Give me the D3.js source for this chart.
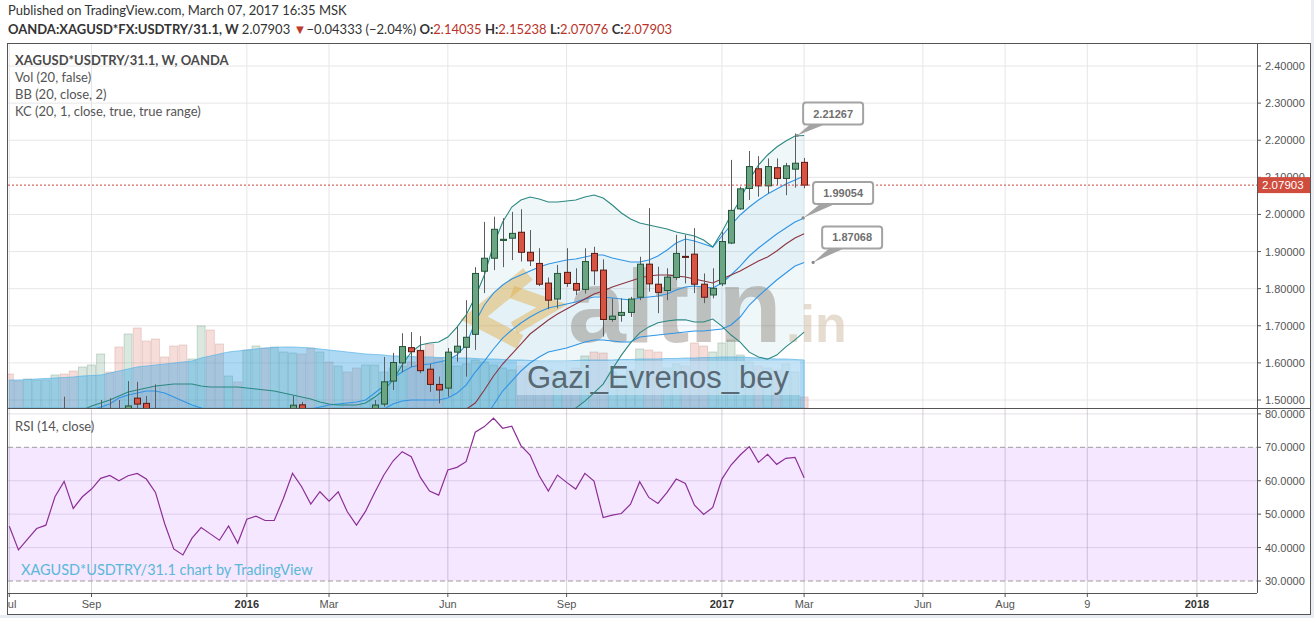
<!DOCTYPE html>
<html><head><meta charset="utf-8">
<script src="https://cdn.jsdelivr.net/npm/d3@7"></script>
<style>html,body{margin:0;padding:0;background:#fff;} svg{display:block}</style>
</head><body><svg id="c" width="1314" height="618"></svg>
<script>
// ---------------- DATA (weekly bars, Mondays, Jul 6 2015 .. Mar 6 2017) ----------------
const firstWeek = "2015-07-06", lastWeek = "2017-03-06";
const open = [1.335,1.310,1.290,1.325,1.340,1.350,1.440,1.430,1.395,1.418,
1.432,1.470,1.470,1.452,1.505,1.491,1.476,1.455,1.390,1.332,
1.320,1.330,1.365,1.350,1.343,1.360,1.340,1.375,1.382,1.375,
1.376,1.415,1.487,1.455,1.420,1.445,1.425,1.445,1.410,1.390,
1.420,1.489,1.551,1.600,1.641,1.633,1.583,1.542,1.532,1.629,
1.642,1.677,1.847,1.882,1.930,1.936,1.952,1.898,1.868,1.815,
1.772,1.844,1.814,1.798,1.895,1.850,1.717,1.728,1.736,1.777,
1.866,1.812,1.795,1.830,1.887,1.893,1.812,1.783,1.813,1.923,
2.015,2.070,2.123,2.077,2.126,2.097,2.122,2.14035];
const high = [1.350,1.320,1.335,1.350,1.360,1.420,1.509,1.445,1.430,1.445,
1.500,1.505,1.500,1.551,1.549,1.511,1.542,1.465,1.400,1.345,
1.350,1.375,1.385,1.365,1.370,1.365,1.385,1.395,1.395,1.390,
1.425,1.511,1.495,1.465,1.455,1.460,1.460,1.450,1.420,1.425,
1.500,1.616,1.627,1.680,1.683,1.672,1.597,1.563,1.640,1.697,
1.769,1.858,1.980,1.994,1.990,2.007,2.014,1.958,1.909,1.830,
1.864,1.909,1.855,1.909,1.913,1.879,1.774,1.774,1.778,1.886,
2.017,1.859,1.855,1.945,1.945,1.963,1.841,1.855,1.954,2.147,
2.075,2.171,2.157,2.151,2.151,2.139,2.218,2.15238];
const low = [1.300,1.270,1.280,1.315,1.330,1.345,1.405,1.385,1.385,1.405,
1.425,1.450,1.440,1.445,1.476,1.465,1.440,1.380,1.325,1.310,
1.305,1.310,1.340,1.330,1.335,1.330,1.330,1.360,1.360,1.360,
1.370,1.410,1.445,1.410,1.410,1.415,1.415,1.400,1.380,1.385,
1.410,1.482,1.527,1.575,1.589,1.572,1.522,1.491,1.509,1.603,
1.563,1.635,1.788,1.850,1.858,1.877,1.873,1.861,1.807,1.745,
1.747,1.805,1.783,1.787,1.810,1.671,1.711,1.711,1.724,1.769,
1.792,1.734,1.769,1.823,1.814,1.788,1.761,1.774,1.807,1.920,
2.012,2.039,2.048,2.057,2.079,2.052,2.072,2.07076];
const close = [1.310,1.290,1.325,1.340,1.350,1.410,1.430,1.395,1.418,1.432,
1.458,1.462,1.455,1.484,1.489,1.476,1.455,1.390,1.332,1.320,
1.340,1.356,1.350,1.343,1.360,1.340,1.375,1.382,1.375,1.376,
1.415,1.486,1.455,1.420,1.445,1.425,1.445,1.410,1.390,1.415,
1.4865,1.549,1.601,1.644,1.630,1.579,1.542,1.527,1.629,1.645,
1.669,1.841,1.882,1.960,1.933,1.949,1.898,1.875,1.812,1.769,
1.841,1.814,1.796,1.873,1.848,1.717,1.726,1.736,1.772,1.866,
1.813,1.790,1.831,1.895,1.885,1.812,1.777,1.801,1.927,2.011,
2.069,2.129,2.077,2.129,2.097,2.131,2.138,2.07903];
const volume = [34,27,29,28,28,33,34,37,41,43,
54,36,61,74,80,67,69,51,62,63,
49,82,78,64,32,26,58,62,60,61,
56,55,54,60,56,46,42,36,40,43,
43,36,40,42,46,58,64,50,44,42,
44,48,46,43,40,38,42,36,40,38,
34,36,40,52,56,55,36,32,38,59,
58,56,40,44,42,65,62,56,65,68,
53,46,42,40,38,44,36,11];
const volumeMA = [28,28,28.5,29,29.5,30,30.5,31,32,32.5,
33,35,37,39,41,42,43,44,45,46,
47,50,52,54,56,57,58,59,60,60.5,
61,61,60.5,60,59,58,57,56,55,54,
53.5,53,52,52,51.5,51,51,50.5,50.5,50,
50,49.5,49,49,48.5,48,48,47.5,47,47,
47,47,47.5,48,48,48,48,48.5,48.5,49,
49,49,49.5,49.5,50,50,50.5,50.5,51,51,
51,50.5,50,49.5,49,49,48.5,48];
const bbUpper = [null,null,null,null,null,null,null,null,1.4729,1.4837,
1.4918,1.4999,1.5106,1.5214,1.5268,1.5322,1.5376,1.5403,1.5430,1.5430,
1.5430,1.5376,1.5349,1.5349,1.5349,1.5349,1.5322,1.5295,1.5268,1.5241,
1.5187,1.5133,1.5079,1.5026,1.4945,1.4891,1.4864,1.4864,1.4864,1.4918,
1.5079,1.5268,1.5538,1.5942,1.6293,1.6481,1.6535,1.6562,1.6697,1.6966,
1.7289,1.7774,1.8368,1.9176,1.9796,2.0200,2.0389,2.0470,2.0416,2.0335,
2.0335,2.0362,2.0389,2.0470,2.0524,2.0443,2.0254,2.0039,1.9877,1.9769,
1.9715,1.9661,1.9607,1.9527,1.9473,1.9419,1.9311,1.9122,1.9527,1.9985,
2.0389,2.0928,2.1332,2.1602,2.1817,2.1979,2.2114,2.21267];
const bbBasis = [null,null,null,null,null,null,null,null,1.360,1.365,
1.370,1.375,1.380,1.385,1.390,1.395,1.400,1.405,1.405,1.405,
1.405,1.405,1.405,1.400,1.400,1.395,1.390,1.385,1.380,1.375,
1.370,1.372,1.372,1.372,1.375,1.378,1.382,1.385,1.388,1.392,
1.397,1.405,1.415,1.425,1.433,1.440,1.445,1.448,1.455,1.463,
1.475,1.4918,1.5268,1.5646,1.5969,1.6239,1.6508,1.6778,1.6966,1.7155,
1.7316,1.7451,1.7586,1.7720,1.7855,1.7936,1.8044,1.8125,1.8206,1.8287,
1.8341,1.8368,1.8368,1.8341,1.8314,1.8260,1.8206,1.8152,1.8260,1.8368,
1.8475,1.8610,1.8745,1.8853,1.9014,1.9203,1.9365,1.9480];
const bbLower = [null,null,null,null,null,null,null,null,1.247,1.246,
1.248,1.250,1.249,1.249,1.253,1.258,1.262,1.270,1.267,1.267,
1.267,1.272,1.275,1.265,1.265,1.255,1.248,1.240,1.233,1.226,
1.221,1.231,1.236,1.241,1.256,1.267,1.278,1.284,1.290,1.292,
1.286,1.283,1.276,1.256,1.237,1.232,1.237,1.240,1.240,1.229,
1.221,1.206,1.217,1.212,1.214,1.228,1.263,1.309,1.352,1.398,
1.430,1.454,1.478,1.497,1.519,1.543,1.583,1.621,1.654,1.681,
1.697,1.708,1.713,1.716,1.716,1.710,1.710,1.718,1.699,1.675,
1.656,1.629,1.616,1.610,1.621,1.643,1.662,1.683];
const kcUpper = [null,null,null,null,null,null,null,null,1.465,1.474,
1.481,1.4891,1.5053,1.5133,1.5187,1.5241,1.5241,1.5187,1.5079,1.4972,
1.4864,1.4783,1.4675,1.4594,1.4540,1.4514,1.4514,1.4514,1.4540,1.4567,
1.4621,1.4702,1.4729,1.4756,1.4810,1.4864,1.4891,1.4918,1.4945,1.4999,
1.5187,1.5376,1.5592,1.5753,1.5888,1.5942,1.5969,1.6023,1.6077,1.6212,
1.6481,1.7101,1.7559,1.7882,1.8098,1.8260,1.8368,1.8475,1.8583,1.8664,
1.8718,1.8772,1.8799,1.8853,1.8907,1.8907,1.8826,1.8772,1.8718,1.8718,
1.8772,1.8880,1.9041,1.9230,1.9338,1.9284,1.9203,1.9122,1.9419,1.9715,
1.9985,2.0200,2.0389,2.0550,2.0685,2.0820,2.0928,2.1036];
const kcBasis = [null,null,null,null,null,null,null,null,1.400,1.410,
1.4191,1.4352,1.4487,1.4568,1.4622,1.4675,1.4675,1.4622,1.4514,1.4406,
1.4299,1.4218,1.4137,1.4083,1.4029,1.4002,1.4002,1.4002,1.4029,1.4056,
1.4110,1.4191,1.4218,1.4245,1.4299,1.4352,1.4379,1.4406,1.4433,1.4487,
1.4622,1.4756,1.4891,1.4972,1.4999,1.4999,1.4999,1.4999,1.5053,1.5187,
1.5403,1.5753,1.6050,1.6374,1.6670,1.6885,1.7074,1.7236,1.7370,1.7478,
1.7532,1.7586,1.7640,1.7720,1.7774,1.7774,1.7747,1.7720,1.7693,1.7747,
1.7774,1.7801,1.7855,1.7963,1.8044,1.8071,1.8044,1.8017,1.8152,1.8368,
1.8610,1.8880,1.9095,1.9284,1.9473,1.9634,1.9796,1.99054];
const kcLower = [null,null,null,null,null,null,null,null,1.335,1.346,
1.368,1.381,1.392,1.400,1.406,1.411,1.411,1.406,1.395,1.384,
1.373,1.365,1.360,1.357,1.352,1.349,1.349,1.349,1.352,1.355,
1.360,1.368,1.371,1.373,1.379,1.384,1.387,1.389,1.392,1.398,
1.406,1.414,1.419,1.419,1.411,1.406,1.403,1.398,1.403,1.416,
1.4325,1.4352,1.4487,1.4864,1.5241,1.5511,1.5781,1.5996,1.6158,1.6293,
1.6347,1.6400,1.6481,1.6562,1.6616,1.6616,1.6589,1.6562,1.6562,1.6697,
1.6724,1.6751,1.6778,1.6805,1.6831,1.6858,1.6858,1.6885,1.6912,1.7020,
1.7236,1.7559,1.7801,1.8017,1.8233,1.8421,1.8610,1.87068];
const rsi = [46.4,39.3,42.5,45.7,46.7,55.2,59.8,51.7,55.2,57.5,
60.7,61.6,60.0,61.5,62.2,60.5,56.5,47.2,39.6,37.8,
42.8,46.0,44.1,42.2,46.5,41.3,48.5,49.4,48.1,48.1,
54.7,62.2,58.2,53.0,56.7,53.9,56.7,50.7,46.7,50.9,
56.5,61.7,65.9,68.7,67.2,61.0,56.9,55.7,63.2,64.0,
65.7,74.5,76.2,78.7,75.7,76.3,70.5,67.7,61.5,56.9,
61.7,59.5,57.5,62.2,59.9,49.0,49.7,50.2,53.0,59.7,
55.0,53.2,56.5,60.5,59.2,52.7,49.9,52.0,60.5,64.7,
67.7,70.2,65.5,67.9,64.9,66.7,67.0,60.9];
const priceTicks = [2.4,2.3,2.2,2.1,2.0,1.9,1.8,1.7,1.6,1.5];
const rsiTicks = [80,70,60,50,40,30];
const timeTickDates = ["2015-07-06","2015-09-07","2016-01-04","2016-03-07","2016-06-06","2016-09-05","2017-01-02","2017-03-06","2017-06-05","2017-08-07","2017-10-09","2018-01-01"];
const timeTickLabels = ["Jul","Sep","2016","Mar","Jun","Sep","2017","Mar","Jun","Aug","9","2018"];
const yearLabels = ["2016","2017","2018"];
const lastPrice = 2.07903;
const calloutValues = [2.21267, 1.99054, 1.87068];

// ---------------- LAYOUT ----------------
const L = 8, R = 1257, AXR = 1310, PT = 44, PB = 408, RB = 593, BOT = 614;
const AX_FONT = "'Liberation Sans', Arial, sans-serif";
const UI_FONT = "Lato, 'Open Sans', sans-serif";
const parse = d3.utcParse("%Y-%m-%d");
const dates = d3.utcMonday.range(parse(firstWeek), d3.utcDay.offset(parse(lastWeek), 1));
const N = dates.length;

const x = d3.scaleUtc().domain([Date.UTC(2015,6,5), Date.UTC(2018,1,16)]).range([L, R]);
const y = d3.scaleLinear().domain([1.5, 2.4]).range([400, 66]);
const yVol = d3.scaleLinear().domain([0, 100]).range([PB, PB - 100]);
const yRsi = d3.scaleLinear().domain([30, 70]).range([581, 447.3]);

const svg = d3.select("#c");
svg.append("rect").attr("width",1314).attr("height",618).attr("fill","#ffffff");
svg.append("rect").attr("x",AXR+1).attr("y",0).attr("width",10).attr("height",618).attr("fill","#e9edf1");
svg.append("rect").attr("x",0).attr("y",BOT+1).attr("width",1314).attr("height",10).attr("fill","#e9edf1");

const defs = svg.append("defs");
defs.append("clipPath").attr("id","cp").append("rect").attr("x",L).attr("y",PT).attr("width",R-L).attr("height",PB-PT);
defs.append("clipPath").attr("id","cr").append("rect").attr("x",L).attr("y",PB).attr("width",R-L).attr("height",RB-PB);
defs.append("clipPath").attr("id","ct").append("rect").attr("x",L).attr("y",RB).attr("width",R-L).attr("height",BOT-RB);

// ---------------- HEADER ----------------
svg.append("text").attr("x",8).attr("y",14.5).attr("font-family",UI_FONT).attr("font-size",13).attr("fill","#333")
  .text("Published on TradingView.com, March 07, 2017 16:35 MSK");
const h2 = svg.append("text").attr("x",8).attr("y",34).attr("font-family",UI_FONT).attr("font-size",13).attr("fill","#333");
h2.append("tspan").attr("font-weight","bold").text("OANDA:XAGUSD*FX:USDTRY/31.1, W ");
h2.append("tspan").text("2.07903 ");
h2.append("tspan").attr("fill","#c0392b").text("▼");
h2.append("tspan").text("−0.04333 (−2.04%) ");
[["O:","2.14035"],["H:","2.15238"],["L:","2.07076"],["C:","2.07903"]].forEach(([k,v])=>{
  h2.append("tspan").attr("font-weight","bold").attr("fill","#333").text(k);
  h2.append("tspan").attr("fill","#b8342a").text(v+" ");
});

// ---------------- GRID ----------------
const tickX = timeTickDates.map(d => x(parse(d)));
const grid = svg.append("g");
tickX.forEach(tx => { if (tx > L+1) grid.append("line").attr("x1",tx).attr("x2",tx).attr("y1",PT).attr("y2",RB).attr("stroke","#e6e6e6"); });
priceTicks.forEach(p => grid.append("line").attr("x1",L).attr("x2",R).attr("y1",y(p)).attr("y2",y(p)).attr("stroke","#e6e6e6"));

// ---------------- PRICE PANE ----------------
const pp = svg.append("g").attr("clip-path","url(#cp)");
const idx = d3.range(N);
const cx = i => x(dates[i]);
const bandArea = (up, lo) => d3.area().defined(i => up[i] != null).x(cx).y0(i => y(lo[i])).y1(i => y(up[i]));
pp.append("path").attr("d", bandArea(bbUpper,bbLower)(idx)).attr("fill","rgba(25,135,170,0.07)");
pp.append("path").attr("d", bandArea(kcUpper,kcLower)(idx)).attr("fill","rgba(33,150,243,0.05)");

// volume bars
pp.selectAll(".vb").data(idx).enter().append("rect")
  .attr("x", i => cx(i) - 4).attr("width", 8)
  .attr("y", i => yVol(volume[i])).attr("height", i => PB - yVol(volume[i]))
  .attr("fill", i => close[i] >= open[i] ? "rgba(107,165,131,0.25)" : "rgba(215,84,66,0.2)")
  .attr("stroke", i => close[i] >= open[i] ? "rgba(90,140,110,0.35)" : "rgba(180,110,100,0.3)").attr("stroke-width",0.8);
// volume MA area
pp.append("path").attr("d", d3.area().x(cx).y0(PB).y1(i => yVol(volumeMA[i])).curve(d3.curveMonotoneX)(idx))
  .attr("fill","rgba(60,165,228,0.42)").attr("stroke","rgba(90,180,230,0.7)").attr("stroke-width",1);

// watermark logo (altın.in)
const logo = pp.append("g");
logo.append("polyline").attr("points","528,274 474,318 520,342").attr("fill","none").attr("stroke","rgba(226,178,84,0.5)").attr("stroke-width",15).attr("stroke-linejoin","miter");
logo.append("polyline").attr("points","512,292 552,306 514,328").attr("fill","none").attr("stroke","rgba(226,178,84,0.5)").attr("stroke-width",13).attr("stroke-linejoin","miter");
logo.append("text").attr("x",568).attr("y",342).attr("font-family",AX_FONT).attr("font-weight","bold").attr("font-size",104)
  .attr("fill","rgba(120,108,95,0.38)").text("altın");
logo.append("text").attr("x",786).attr("y",342).attr("font-family",AX_FONT).attr("font-weight","bold").attr("font-size",52)
  .attr("fill","rgba(200,180,150,0.45)").text(".in");
// Gazi box
pp.append("rect").attr("x",517).attr("y",361).attr("width",283).attr("height",34).attr("fill","rgba(214,234,247,0.6)");
pp.append("text").attr("x",527).attr("y",388).attr("font-family",AX_FONT).attr("font-size",31).attr("fill","#4e5d68").attr("opacity",0.9).text("Gazi_Evrenos_bey");

// band lines
const ln = arr => d3.line().defined(i => arr[i] != null).x(cx).y(i => y(arr[i]))(idx);
[[kcUpper,"#2f95e6"],[kcBasis,"#2f95e6"],[kcLower,"#2f95e6"],[bbBasis,"#8d3440"],[bbUpper,"#2b8882"],[bbLower,"#2b8882"]]
  .forEach(([a,c]) => pp.append("path").attr("d", ln(a)).attr("fill","none").attr("stroke",c).attr("stroke-width",1.1));

// candles
const cg = pp.append("g");
idx.forEach(i => {
  const up = close[i] >= open[i];
  const xc = Math.round(cx(i)) + 0.5;
  cg.append("line").attr("x1",xc).attr("x2",xc).attr("y1",y(high[i])).attr("y2",y(low[i])).attr("stroke","#5d5d60");
  const yt = y(Math.max(open[i],close[i])), yb = y(Math.min(open[i],close[i]));
  cg.append("rect").attr("x",xc-3).attr("width",6).attr("y",yt).attr("height",Math.max(1,yb-yt))
    .attr("fill", up ? "#6ba583" : "#d75442").attr("stroke", up ? "#225437" : "#5b1a13").attr("stroke-width",1);
});

// last price line
pp.append("line").attr("x1",L).attr("x2",R).attr("y1",y(lastPrice)).attr("y2",y(lastPrice))
  .attr("stroke","#d0493c").attr("stroke-dasharray","2,2");

// callouts
const lastX = cx(N-1);
const calloutGeo = [{tip:-7, box:-1, top:-33},{tip:-1, box:9, top:-36},{tip:9, box:18, top:-36}];
const co = svg.append("g");
calloutValues.forEach((v,j) => {
  const g = calloutGeo[j];
  const ty = y(v), tx = lastX + g.tip, bx = lastX + g.box, by = ty + g.top;
  co.append("path").attr("d",`M${bx+8},${by+21} L${bx+24},${by+21} L${tx},${ty} Z`).attr("fill","#a3a3a3");
  co.append("rect").attr("x",bx).attr("y",by).attr("width",60).attr("height",22).attr("rx",3)
    .attr("fill","#fff").attr("stroke","#a3a3a3").attr("stroke-width",2);
  co.append("text").attr("x",bx+30).attr("y",by+15).attr("text-anchor","middle").attr("font-family",AX_FONT)
    .attr("font-weight","bold").attr("font-size",11).attr("fill","#6f6f6f").text(v.toFixed(5));
  co.append("circle").attr("cx",tx).attr("cy",ty).attr("r",1.6).attr("fill","#8a8a8a");
});

// legend
const lg = svg.append("g").attr("font-family",UI_FONT).attr("font-size",13).attr("fill","#555");
lg.append("text").attr("x",15).attr("y",65).attr("font-weight","bold").attr("fill","#4a4a4a").text("XAGUSD*USDTRY/31.1, W, OANDA");
lg.append("text").attr("x",15).attr("y",82).text("Vol (20, false)");
lg.append("text").attr("x",15).attr("y",99).text("BB (20, close, 2)");
lg.append("text").attr("x",15).attr("y",116).text("KC (20, 1, close, true, true range)");

// ---------------- RSI PANE ----------------
const rp = svg.append("g").attr("clip-path","url(#cr)");
rp.append("rect").attr("x",L).attr("y",yRsi(70)).attr("width",R-L).attr("height",yRsi(30)-yRsi(70)).attr("fill","rgba(153,21,255,0.1)");
tickX.forEach(tx => rp.append("line").attr("x1",tx).attr("x2",tx).attr("y1",PB).attr("y2",RB).attr("stroke","rgba(150,130,170,0.18)"));
[80,60,50,40].forEach(v => rp.append("line").attr("x1",L).attr("x2",R).attr("y1",yRsi(v)).attr("y2",yRsi(v)).attr("stroke","rgba(150,130,170,0.25)"));
[70,30].forEach(v => rp.append("line").attr("x1",L).attr("x2",R).attr("y1",yRsi(v)).attr("y2",yRsi(v)).attr("stroke","#9d9d9d").attr("stroke-dasharray","5,3"));
rp.append("path").attr("d", d3.line().x(cx).y(i => yRsi(rsi[i]))(idx)).attr("fill","none").attr("stroke","#8c2f96").attr("stroke-width",1.2);
svg.append("text").attr("x",15).attr("y",431).attr("font-family",UI_FONT).attr("font-size",13).attr("fill","#555").text("RSI (14, close)");
svg.append("text").attr("x",21).attr("y",575).attr("font-family",UI_FONT).attr("font-size",14.5).attr("fill","#5ab8d8").text("XAGUSD*USDTRY/31.1 chart by TradingView");

// ---------------- AXES / FRAME ----------------
const ax = svg.append("g").attr("font-family",AX_FONT).attr("font-size",11).attr("fill","#555");
priceTicks.forEach(p => {
  ax.append("line").attr("x1",R).attr("x2",R+4).attr("y1",y(p)).attr("y2",y(p)).attr("stroke","#555");
  ax.append("text").attr("x",R+8).attr("y",y(p)+4).text(d3.format(".5f")(p));
});
rsiTicks.forEach(v => {
  ax.append("line").attr("x1",R).attr("x2",R+4).attr("y1",yRsi(v)).attr("y2",yRsi(v)).attr("stroke","#555");
  ax.append("text").attr("x",R+8).attr("y",yRsi(v)+4).text(d3.format(".4f")(v));
});
// last price label
svg.append("rect").attr("x",R).attr("y",y(lastPrice)-8).attr("width",AXR-R).attr("height",16).attr("fill","#d04c3c");
svg.append("text").attr("x",R+5).attr("y",y(lastPrice)+4).attr("font-family",AX_FONT).attr("font-size",11.5).attr("fill","#fff").text(d3.format(".5f")(lastPrice));

// time axis
const tg = svg.append("g").attr("clip-path","url(#ct)");
tickX.forEach((tx,j) => {
  tg.append("line").attr("x1",tx).attr("x2",tx).attr("y1",RB).attr("y2",RB+4).attr("stroke","#555");
  const isYear = yearLabels.includes(timeTickLabels[j]);
  tg.append("text").attr("x",tx).attr("y",RB+15).attr("text-anchor","middle").attr("font-family",AX_FONT)
    .attr("font-size",11).attr("font-weight", isYear ? "bold" : "normal").attr("fill", isYear ? "#333" : "#555").text(timeTickLabels[j]);
});

// frame lines
const fr = svg.append("g").attr("stroke","#555").attr("fill","none");
fr.append("rect").attr("x",L-0.5).attr("y",PT-0.5).attr("width",AXR-L+1).attr("height",BOT-PT+1);
fr.append("line").attr("x1",L).attr("x2",R).attr("y1",PB+0.5).attr("y2",PB+0.5);
fr.append("line").attr("x1",R+0.5).attr("x2",R+0.5).attr("y1",PT).attr("y2",RB);
fr.append("line").attr("x1",L).attr("x2",R).attr("y1",RB+0.5).attr("y2",RB+0.5);
fr.append("line").attr("x1",R).attr("x2",AXR).attr("y1",PB+0.5).attr("y2",PB+0.5);
</script></body></html>
